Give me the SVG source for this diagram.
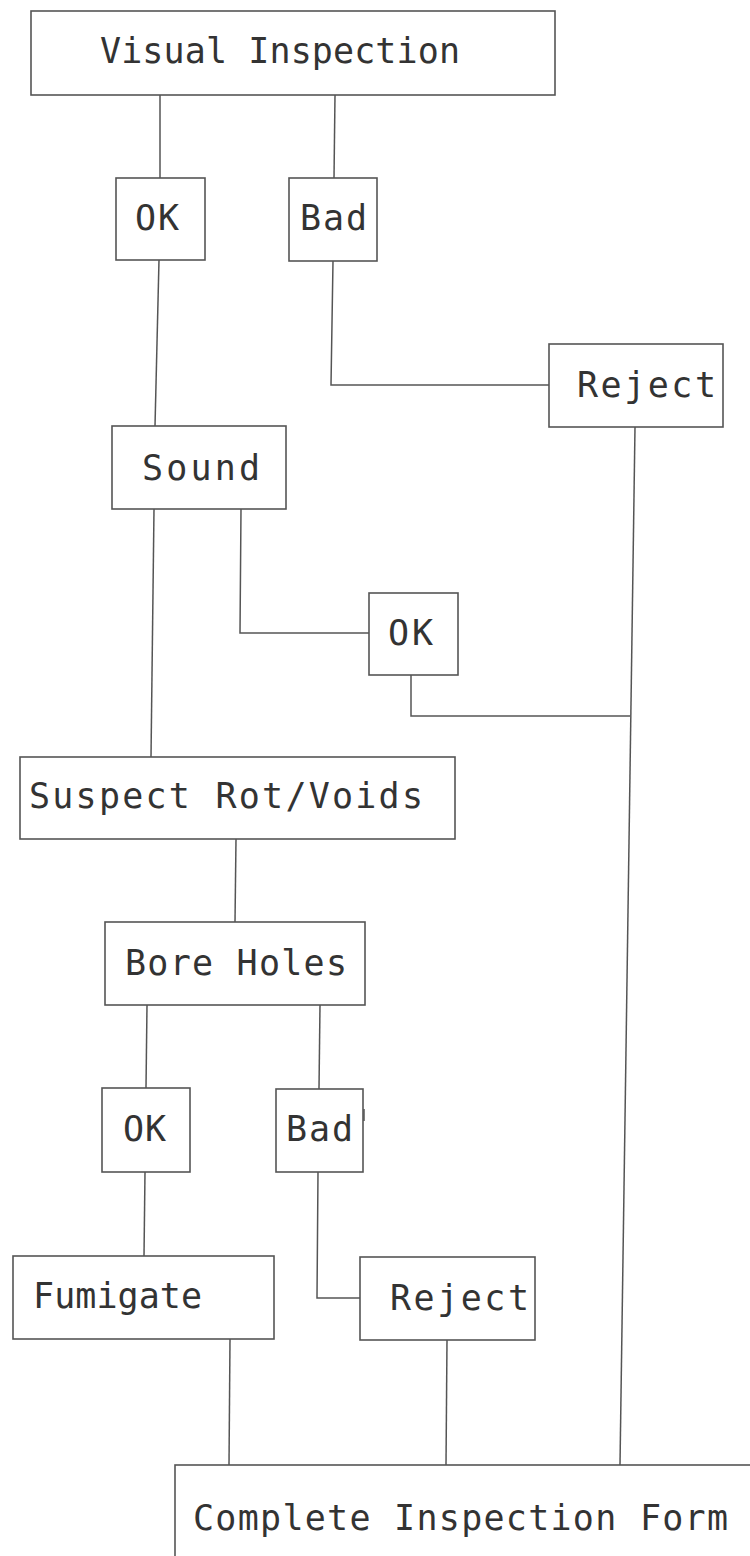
<svg xmlns="http://www.w3.org/2000/svg" width="750" height="1556" viewBox="0 0 750 1556">
<style>
.box{fill:#fff;stroke:#555;stroke-width:1.6}
.lbl{font-family:"DejaVu Sans Mono","Liberation Mono",monospace;font-size:35px;fill:#333}
.con{fill:none;stroke:#555;stroke-width:1.5}
</style>
<rect width="750" height="1556" fill="#fff"/>
<g id="connectors">
<polyline class="con" points="160,95 160,178"/>
<polyline class="con" points="335,95 334,178"/>
<polyline class="con" points="159,260 155,426"/>
<polyline class="con" points="333,261 331,385 549,385"/>
<polyline class="con" points="635,427 620,1465"/>
<polyline class="con" points="154,509 151,757"/>
<polyline class="con" points="241,509 240,633 369,633"/>
<polyline class="con" points="411,675 411,716 630,716"/>
<polyline class="con" points="236,839 235,922"/>
<polyline class="con" points="147,1005 146,1088"/>
<polyline class="con" points="320,1005 319,1089"/>
<polyline class="con" points="145,1172 144,1256"/>
<polyline class="con" points="318,1172 317,1298 360,1298"/>
<polyline class="con" points="230,1339 229,1465"/>
<polyline class="con" points="447,1340 446,1465"/>
</g>
<g id="visual-inspection">
<rect class="box" x="31" y="11" width="524" height="84"/>
<text class="lbl" x="100" y="63" textLength="360" lengthAdjust="spacing">Visual Inspection</text>
</g>
<g id="ok1">
<rect class="box" x="116" y="178" width="89" height="82"/>
<text class="lbl" x="135" y="230" textLength="44" lengthAdjust="spacing">OK</text>
</g>
<g id="bad1">
<rect class="box" x="289" y="178" width="88" height="83"/>
<text class="lbl" x="300" y="230" textLength="67" lengthAdjust="spacing">Bad</text>
</g>
<g id="reject1">
<rect class="box" x="549" y="344" width="174" height="83"/>
<text class="lbl" x="577" y="397" textLength="139" lengthAdjust="spacing">Reject</text>
</g>
<g id="sound">
<rect class="box" x="112" y="426" width="174" height="83"/>
<text class="lbl" x="142" y="480" textLength="118" lengthAdjust="spacing">Sound</text>
</g>
<g id="ok2">
<rect class="box" x="369" y="593" width="89" height="82"/>
<text class="lbl" x="388" y="645" textLength="45" lengthAdjust="spacing">OK</text>
</g>
<g id="suspect">
<rect class="box" x="20" y="757" width="435" height="82"/>
<text class="lbl" x="29" y="808" textLength="394" lengthAdjust="spacing">Suspect Rot/Voids</text>
</g>
<g id="bore-holes">
<rect class="box" x="105" y="922" width="260" height="83"/>
<text class="lbl" x="125" y="975" textLength="222" lengthAdjust="spacing">Bore Holes</text>
</g>
<g id="ok3">
<rect class="box" x="102" y="1088" width="88" height="84"/>
<text class="lbl" x="123" y="1141" textLength="43" lengthAdjust="spacing">OK</text>
</g>
<g id="bad2">
<rect class="box" x="276" y="1089" width="87" height="83"/>
<text class="lbl" x="286" y="1141" textLength="67" lengthAdjust="spacing">Bad</text>
<line x1="364" y1="1109" x2="364" y2="1121" stroke="#555" stroke-width="1.5"/>
</g>
<g id="fumigate">
<rect class="box" x="13" y="1256" width="261" height="83"/>
<text class="lbl" x="33" y="1308" textLength="169" lengthAdjust="spacing">Fumigate</text>
</g>
<g id="reject2">
<rect class="box" x="360" y="1257" width="175" height="83"/>
<text class="lbl" x="390" y="1310" textLength="139" lengthAdjust="spacing">Reject</text>
</g>
<g id="complete-form">
<rect class="box" x="175" y="1465" width="620" height="140"/>
<text class="lbl" x="193" y="1530" textLength="535" lengthAdjust="spacing">Complete Inspection Form</text>
</g>
</svg>
